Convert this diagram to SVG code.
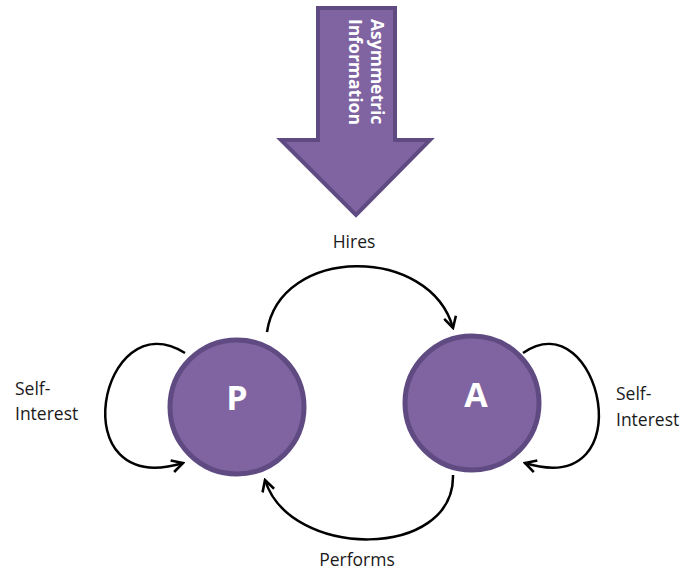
<svg xmlns="http://www.w3.org/2000/svg" width="686" height="572" viewBox="0 0 686 572">
  <style>
    .node { fill: #8064A2; stroke: #5F4B82; stroke-width: 5; }
    .ntext { font-family: "Open Sans", Lato, sans-serif; font-weight: bold; font-size: 34px; fill: #ffffff; text-anchor: middle; }
    .label { font-family: "Open Sans", Lato, sans-serif; font-size: 17.5px; fill: #1a1a1a; }
    .conn { fill: none; stroke: #000000; stroke-width: 2.5; marker-end: url(#chev); }
    .banner { font-family: "Open Sans", Lato, sans-serif; font-weight: bold; font-size: 17.5px; fill: #ffffff; }
  </style>
  <defs>
    <marker id="chev" viewBox="0 0 12 12" refX="10.5" refY="6" markerWidth="14" markerHeight="14" markerUnits="userSpaceOnUse" orient="auto">
      <path d="M1,0.8 L10.5,6 L1,11.2" fill="none" stroke="#000" stroke-width="2.2"/>
    </marker>
  </defs>
  <rect width="686" height="572" fill="#ffffff"/>

  <!-- big downward arrow -->
  <g id="asym">
    <polygon points="318,8 395,8 395,140 430,140 356,215 281,140 318,140" fill="#8064A2" stroke="#5F4B82" stroke-width="4" stroke-linejoin="miter"/>
    <text class="banner" transform="translate(371,19) rotate(90)">Asymmetric</text>
    <text class="banner" transform="translate(349,19) rotate(90)">Information</text>
  </g>

  <g id="nodeP">
    <circle class="node" cx="237" cy="407" r="67"/>
    <text class="ntext" x="237" y="410">P</text>
  </g>
  <g id="nodeA">
    <circle class="node" cx="472" cy="403" r="67"/>
    <text class="ntext" x="476" y="407">A</text>
  </g>

  <g id="connectors">
    <path class="conn" d="M267,332 C280,245 430,245 453,328"/>
    <path class="conn" d="M453,475 C455,560 290,560 265,480"/>
    <path class="conn" d="M185,353 C100,300 60,500 183,463"/>
    <path class="conn" d="M523,353 C600,300 645,500 525,463"/>
  </g>

  <g id="labels">
    <text class="label" x="354" y="248" text-anchor="middle">Hires</text>
    <text class="label" x="357" y="566" text-anchor="middle">Performs</text>
    <text class="label" x="15" y="395">Self-</text>
    <text class="label" x="15" y="420">Interest</text>
    <text class="label" x="616" y="400">Self-</text>
    <text class="label" x="616" y="426">Interest</text>
  </g>
</svg>
